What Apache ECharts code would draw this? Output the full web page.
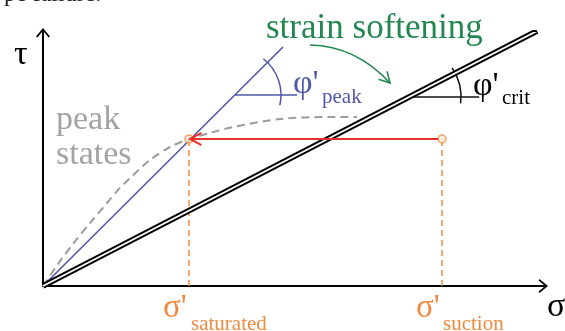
<!DOCTYPE html>
<html>
<head>
<meta charset="utf-8">
<script src="https://cdn.jsdelivr.net/npm/echarts@6/dist/echarts.min.js"></script>
<style>
html,body{margin:0;padding:0;background:#fff;}
#c{width:565px;height:331px;}
</style>
</head>
<body>
<div id="c"></div>
<script>
// ---- data (schematic units: sigma', tau) ----
const sigmaMax = 500;
const tauMax = 253;
const peakLine = [[0, 0], [240, 239]];          // phi'_peak envelope
const critLine = [[0, 0], [494, 255]];          // phi'_crit line
const peakStatesSigma = [0, 15, 30, 47, 64, 75, 85, 107, 127, 146, 167, 190, 237, 287, 314];
const peakStatesTau   = [0, 22, 42, 63, 83, 96, 106, 126, 139, 147, 153, 159, 167, 169, 169];
const sigmaSaturated = 146;
const sigmaSuction = 399;
const tauPeak = 147;
const peakArc = { center: [192, 191], r: 46, from: -13, to: 52 };
const critArc = { center: [366, 189], r: 52, from: -7, to: 34 };
const greenArrow = { start: [267, 241], ctrl: [313, 240], end: [347, 203] };

const peakStates = peakStatesSigma.map((s, i) => [s, peakStatesTau[i]]);
const verticalSat = [[sigmaSaturated, 0], [sigmaSaturated, tauPeak]];
const verticalSuc = [[sigmaSuction, 0], [sigmaSuction, tauPeak]];
const redPath = [[sigmaSuction, tauPeak], [sigmaSaturated, tauPeak]];

const ORANGE = '#f08a3e', RED = '#e8332c', BLUE = '#4f58a8', GRAY = '#9c9c9c', GREEN = '#23874f';
const SERIF = '"Liberation Serif", "DejaVu Serif", serif';

const arrowPath = 'path://M7,0 L14,8.5 L12.6,9.4 L7.8,3.8 L7.8,10 L6.2,10 L6.2,3.8 L1.4,9.4 L0,8.5 Z';

const chart = echarts.init(document.getElementById('c'), null, { renderer: 'canvas' });

function chevron(tip, dir, len, spread) {
  const a = Math.atan2(dir[1], dir[0]);
  const p1 = [tip[0] - len * Math.cos(a - spread), tip[1] - len * Math.sin(a - spread)];
  const p2 = [tip[0] - len * Math.cos(a + spread), tip[1] - len * Math.sin(a + spread)];
  return [p1, tip, p2];
}

function renderArcs(params, api) {
  const children = [];
  const px = (p) => api.coord(p);
  const scale = (r, c) => Math.abs(api.coord([c[0] + r, c[1]])[0] - api.coord(c)[0]);
  [[peakArc, BLUE, 1.5], [critArc, '#111', 1.5]].forEach(([arc, col, w]) => {
    const c = px(arc.center);
    const r = scale(arc.r, arc.center);
    children.push({ type: 'line', shape: { x1: c[0], y1: c[1], x2: c[0] + r * 1.35, y2: c[1] },
      style: { stroke: col, lineWidth: w } });
    children.push({ type: 'arc', shape: { cx: c[0], cy: c[1], r: r,
      startAngle: -arc.to * Math.PI / 180, endAngle: -arc.from * Math.PI / 180, clockwise: true },
      style: { stroke: col, lineWidth: w, fill: null } });
  });
  const s = px(greenArrow.start), k = px(greenArrow.ctrl), e = px(greenArrow.end);
  children.push({ type: 'bezierCurve', shape: { x1: s[0], y1: s[1], cpx1: k[0], cpy1: k[1], x2: e[0], y2: e[1] },
    style: { stroke: GREEN, lineWidth: 1.6, fill: null } });
  const d = [e[0] - k[0], e[1] - k[1]];
  children.push({ type: 'polyline', shape: { points: chevron(e, d, 12, 0.5) },
    style: { stroke: GREEN, lineWidth: 1.6, fill: null } });
  return { type: 'group', children: children };
}

function renderRed(params, api) {
  const r0 = api.coord(redPath[0]), r1 = api.coord(redPath[1]);
  return { type: 'group', children: [
    { type: 'line', shape: { x1: r0[0] - 4, y1: r0[1], x2: r1[0] + 1, y2: r1[1] },
      style: { stroke: RED, lineWidth: 2 } },
    { type: 'polyline', shape: { points: chevron([r1[0] + 1, r1[1]], [r1[0] - r0[0], r1[1] - r0[1]], 13, 0.5) },
      style: { stroke: RED, lineWidth: 2, fill: null } }
  ] };
}

function txt(text, x, y, size, color) {
  return { type: 'text', x: x, y: y, z: 100,
    style: { text: text, font: size + 'px ' + SERIF, fill: color, verticalAlign: 'middle', align: 'left' } };
}

const option = {
  animation: false,
  backgroundColor: '#fff',
  grid: { left: 43, right: 22, top: 33, bottom: 45, containLabel: false },
  xAxis: {
    type: 'value', min: 0, max: sigmaMax,
    axisLine: { show: true, lineStyle: { color: '#000', width: 2 }, symbol: ['none', arrowPath], symbolSize: [14, 10] },
    axisTick: { show: false }, axisLabel: { show: false }, splitLine: { show: false }
  },
  yAxis: {
    type: 'value', min: 0, max: tauMax,
    axisLine: { show: true, onZero: false, lineStyle: { color: '#000', width: 2 }, symbol: ['none', arrowPath], symbolSize: [14, 10] },
    axisTick: { show: false }, axisLabel: { show: false }, splitLine: { show: false }
  },
  series: [
    { type: 'line', data: verticalSat, symbol: 'none', lineStyle: { color: ORANGE, width: 1.5, type: [6, 4] }, z: 2 },
    { type: 'line', data: verticalSuc, symbol: 'none', lineStyle: { color: ORANGE, width: 1.5, type: [6, 4] }, z: 2 },
    { type: 'line', data: peakStates, symbol: 'none', smooth: 0.3, lineStyle: { color: GRAY, width: 2, type: [8, 5] }, z: 3 },
    { type: 'line', data: peakLine, symbol: 'none', lineStyle: { color: BLUE, width: 1.6 }, z: 4 },
    { type: 'custom', data: [[0, 0]], renderItem: renderArcs, z: 5, silent: true },
    { type: 'line', data: critLine, symbol: 'none', lineStyle: { color: '#000', width: 5.8, cap: 'butt' }, z: 6 },
    { type: 'line', data: critLine, symbol: 'none', lineStyle: { color: '#fff', width: 1.8, cap: 'butt' }, z: 7 },
    { type: 'scatter', data: [[sigmaSaturated, tauPeak], [sigmaSuction, tauPeak]], symbol: 'circle', symbolSize: 8,
      itemStyle: { color: '#fde6d2', borderColor: ORANGE, borderWidth: 1.5 }, z: 8 },
    { type: 'custom', data: [[0, 0]], renderItem: renderRed, z: 9, silent: true }
  ],
  graphic: [
    txt('pe failure.', 4, -5, 24, '#222'),
    txt('τ', 14, 55, 34, '#000'),
    txt('σ', 547, 307, 34, '#000'),
    txt('strain softening', 266, 29, 35, GREEN),
    txt('peak', 56, 120, 34, '#a3a3a3'),
    txt('states', 56, 155, 34, '#a3a3a3'),
    txt("φ'", 293, 84, 34, BLUE),
    txt('peak', 322, 97, 21, BLUE),
    txt("φ'", 473, 86, 34, '#000'),
    txt('crit', 502, 98, 21, '#000'),
    txt("σ'", 163, 308, 33, ORANGE),
    txt('saturated', 191, 324, 21, ORANGE),
    txt("σ'", 416, 308, 33, ORANGE),
    txt('suction', 443, 324, 21, ORANGE)
  ]
};
chart.setOption(option);
</script>
</body>
</html>
